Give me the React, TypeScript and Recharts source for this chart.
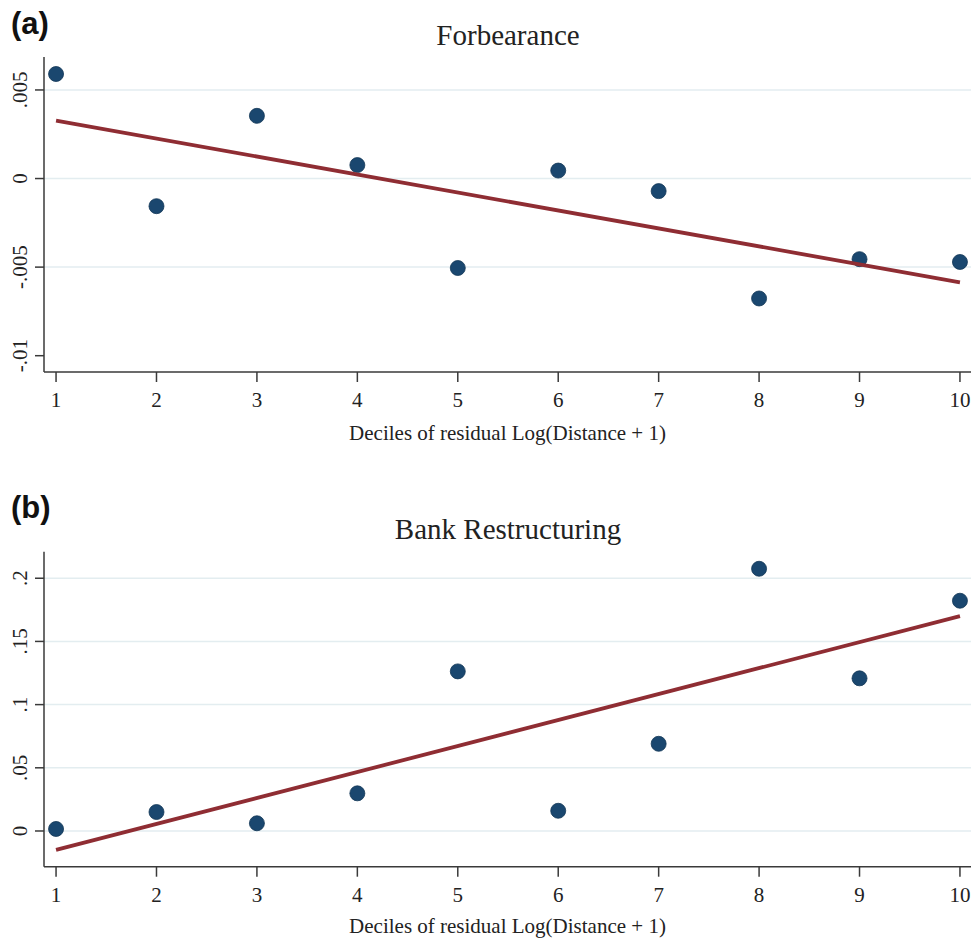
import { ScatterChart, Scatter, XAxis, YAxis, CartesianGrid } from 'recharts';

// binned scatter: deciles of residual log distance
const deciles = [1, 2, 3, 4, 5, 6, 7, 8, 9, 10];

const forbearance = [0.0059, -0.00156, 0.00354, 0.00076, -0.00505, 0.00045, -0.00071, -0.00677, -0.00455, -0.00471];
const restructuring = [0.0016, 0.015, 0.0061, 0.0298, 0.1263, 0.016, 0.069, 0.2075, 0.1208, 0.1822];

// fitted line end points (x = 1 and x = 10)
const fitX = [1, 10];
const forbearanceFit = [0.00327, -0.00586];
const restructuringFit = [-0.015, 0.17];

const forbearanceTicks = [-0.01, -0.005, 0, 0.005];
const forbearanceTickLabels = ['-.01', '-.005', '0', '.005'];
const forbearanceGrid = [-0.005, 0, 0.005];
const restructuringTicks = [0, 0.05, 0.1, 0.15, 0.2];
const restructuringTickLabels = ['0', '.05', '.1', '.15', '.2'];
const restructuringGrid = [0, 0.05, 0.1, 0.15, 0.2];

const SERIF = '"Liberation Serif", "Times New Roman", serif';
const SANS = '"Liberation Sans", Arial, sans-serif';
const NAVY = '#1a476f';
const MAROON = '#8f2d33';
const AXIS = '#3a3a3a';

const toPoints = (xs: number[], ys: number[]) => xs.map((x, i) => ({ x, y: ys[i] }));

function Dot(props: any) {
  return <circle cx={props.cx} cy={props.cy} r={7.5} fill={NAVY} stroke="#123656" strokeWidth={0.8} />;
}

function makeYTick(ticks: number[], labels: string[]) {
  return (props: any) => {
    const { x, y, payload } = props;
    const idx = ticks.findIndex((t) => Math.abs(t - payload.value) < 1e-9);
    return (
      <text
        x={x}
        y={y}
        transform={`rotate(-90 ${x} ${y})`}
        textAnchor="middle"
        fontSize={21}
        fontFamily={SERIF}
        fill="#222"
      >
        {idx >= 0 ? labels[idx] : payload.value}
      </text>
    );
  };
}

interface PanelProps {
  top: number;
  height: number;
  plotTop: number;
  xAxisHeight: number;
  labelOffset: number;
  values: number[];
  fit: number[];
  yDomain: [number, number];
  yTicks: number[];
  yLabels: string[];
  grid: number[];
}

function Panel({ top, height, plotTop, xAxisHeight, labelOffset, values, fit, yDomain, yTicks, yLabels, grid }: PanelProps) {
  return (
    <div style={{ position: 'absolute', left: 0, top, width: 971, height }}>
      <ScatterChart width={971} height={height} margin={{ top: plotTop, right: 0, bottom: 0, left: 0 }}>
        <CartesianGrid vertical={false} horizontalValues={grid} stroke="#e3edf0" strokeWidth={1.5} />
        <XAxis
          type="number"
          dataKey="x"
          domain={[0.88, 10.11]}
          ticks={deciles}
          interval={0}
          allowDataOverflow
          height={xAxisHeight}
          tickSize={10}
          tickMargin={10}
          stroke={AXIS}
          strokeWidth={1.5}
          tick={{ fill: '#222', fontSize: 21, fontFamily: SERIF }}
          label={{
            value: 'Deciles of residual Log(Distance + 1)',
            position: 'insideBottom',
            offset: labelOffset,
            fill: '#222',
            fontSize: 21,
            fontFamily: SERIF,
          }}
        />
        <YAxis
          type="number"
          dataKey="y"
          domain={yDomain}
          ticks={yTicks}
          interval={0}
          allowDataOverflow
          width={44}
          tickSize={9}
          tickMargin={8}
          stroke={AXIS}
          strokeWidth={1.5}
          tick={makeYTick(yTicks, yLabels)}
        />
        <Scatter data={toPoints(deciles, values)} shape={Dot} isAnimationActive={false} />
        <Scatter
          data={toPoints(fitX, fit)}
          line={{ stroke: MAROON, strokeWidth: 3.8 }}
          shape={() => <g />}
          isAnimationActive={false}
        />
      </ScatterChart>
    </div>
  );
}

export default function App() {
  return (
    <div style={{ position: 'absolute', left: 0, top: 0, width: 971, height: 940, background: '#fff', overflow: 'hidden' }}>
      <Panel
        top={0}
        height={460}
        plotTop={57}
        xAxisHeight={88}
        labelOffset={20}
        values={forbearance}
        fit={forbearanceFit}
        yDomain={[-0.01092, 0.00686]}
        yTicks={forbearanceTicks}
        yLabels={forbearanceTickLabels}
        grid={forbearanceGrid}
      />
      <Panel
        top={470}
        height={470}
        plotTop={81.7}
        xAxisHeight={73.3}
        labelOffset={7}
        values={restructuring}
        fit={restructuringFit}
        yDomain={[-0.02826, 0.221]}
        yTicks={restructuringTicks}
        yLabels={restructuringTickLabels}
        grid={restructuringGrid}
      />
      <svg width={971} height={940} style={{ position: 'absolute', left: 0, top: 0, pointerEvents: 'none' }}>
        <text x={11} y={34} fontSize={31} fontWeight="bold" fontFamily={SANS} fill="#111">
          (a)
        </text>
        <text x={508} y={45} textAnchor="middle" fontSize={29} fontFamily={SERIF} fill="#222">
          Forbearance
        </text>
        <text x={11} y={518} fontSize={31} fontWeight="bold" fontFamily={SANS} fill="#111">
          (b)
        </text>
        <text x={508} y={539} textAnchor="middle" fontSize={29} fontFamily={SERIF} fill="#222">
          Bank Restructuring
        </text>
      </svg>
    </div>
  );
}
